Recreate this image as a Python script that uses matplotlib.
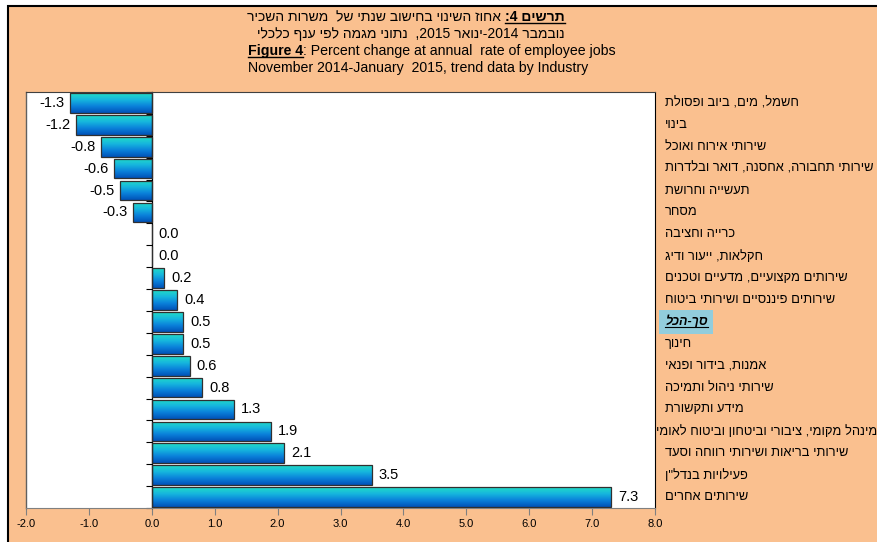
import re
import numpy as np
import matplotlib
matplotlib.use("Agg")
import matplotlib.pyplot as plt
import matplotlib.transforms as mtransforms
from matplotlib.colors import LinearSegmentedColormap
from matplotlib.patches import Rectangle
from matplotlib.lines import Line2D

plt.rcParams['font.family'] = ['Liberation Sans', 'DejaVu Sans']

# data, top row first
industries = [
    "חשמל, מים, ביוב ופסולת",
    "בינוי",
    "שירותי אירוח ואוכל",
    "שירותי תחבורה, אחסנה, דואר ובלדרות",
    "תעשייה וחרושת",
    "מסחר",
    "כרייה וחציבה",
    "חקלאות, ייעור ודיג",
    "שירותים מקצועיים, מדעיים וטכנים",
    "שירותים פיננסיים ושירותי ביטוח",
    "סך-הכל",
    "חינוך",
    "אמנות, בידור ופנאי",
    "שירותי ניהול ותמיכה",
    "מידע ותקשורת",
    "מינהל מקומי, ציבורי וביטחון וביטוח לאומי",
    "שירותי בריאות ושירותי רווחה וסעד",
    "פעילויות בנדל\"ן",
    "שירותים אחרים",
]
values = [-1.3, -1.2, -0.8, -0.6, -0.5, -0.3, 0.0, 0.0, 0.2, 0.4,
          0.5, 0.5, 0.6, 0.8, 1.3, 1.9, 2.1, 3.5, 7.3]
total_label = "סך-הכל"
x_ticks = [-2.0, -1.0, 0.0, 1.0, 2.0, 3.0, 4.0, 5.0, 6.0, 7.0, 8.0]

title_he_bold = "תרשים 4:"
title_he_1 = "אחוז השינוי בחישוב שנתי של  משרות השכיר"
title_he_2 = "נובמבר 2014-ינואר 2015,  נתוני מגמה לפי ענף כלכלי"
title_en_bold = "Figure 4"
title_en_1 = ": Percent change at annual  rate of employee jobs"
title_en_2 = "November 2014-January  2015, trend data by Industry"

PEACH = '#FAC08F'


def vis(s):
    # no bidi in matplotlib: lay the RTL line out by hand, numbers stay LTR
    r = s[::-1]
    return re.sub(r'\d+', lambda m: m.group(0)[::-1], r)


W, H = 877, 542
fig = plt.figure(figsize=(W / 100, H / 100), dpi=100, facecolor='white')


def fx(px):
    return px / W


def fy(py):
    return 1 - py / H


fig.add_artist(Rectangle((fx(8), -0.05), 1.1, fy(6) + 0.05, transform=fig.transFigure,
                         facecolor=PEACH, edgecolor='black', lw=1.5, zorder=0))

ax = fig.add_axes([fx(26), fy(508), fx(655) - fx(26), fy(92) - fy(508)])
ax.set_facecolor('white')

y = np.arange(len(values))
bars = ax.barh(y, values, height=0.9, color='none', edgecolor='#303030', lw=0.9, zorder=3)

cmap = LinearSegmentedColormap.from_list('bar', ['#22DCC6', '#16B6DE', '#0A80DA', '#0052B8'])
grad = np.linspace(0, 1, 64).reshape(-1, 1)
for b in bars:
    x0, y0, w, h = b.get_x(), b.get_y(), b.get_width(), b.get_height()
    if w == 0:
        continue
    im = ax.imshow(grad, cmap=cmap, aspect='auto', interpolation='bilinear',
                   extent=(min(x0, x0 + w), max(x0, x0 + w), y0 + h, y0), zorder=2)
    im.set_clip_path(b)

ax.set_xlim(x_ticks[0], x_ticks[-1])
ax.set_ylim(len(values) - 0.5, -0.5)

# value labels
for i, v in enumerate(values):
    if v < 0:
        ax.annotate(f'{v:.1f}', (v, i), xytext=(-4, 0), textcoords='offset points',
                    ha='right', va='center', fontsize=10.5)
    else:
        ax.annotate(f'{v:.1f}', (v, i), xytext=(5, 0), textcoords='offset points',
                    ha='left', va='center', fontsize=10.5)

# axes styling
ax.spines['left'].set_position(('data', 0))
ax.spines['left'].set_color('black')
ax.spines['left'].set_linewidth(0.9)
ax.spines['right'].set_color('black')
ax.spines['top'].set_color('#404040')
ax.spines['bottom'].set_color('#808080')
ax.plot([0, 0], [0, 1], transform=ax.transAxes, color='#606060', lw=1, clip_on=False)

ax.set_yticks(np.arange(-0.5, len(values), 1.0))
ax.set_yticklabels([])
ax.tick_params(axis='y', direction='out', length=4, width=0.8, color='black')
ax.set_xticks(x_ticks)
ax.set_xticklabels([f'{t:.1f}' for t in x_ticks], fontsize=8)
ax.tick_params(axis='x', direction='out', length=5, width=0.8, color='#808080', pad=3)

# category labels on the right
trans = mtransforms.blended_transform_factory(ax.transAxes, ax.transData)
cat_texts = []
total_texts = []
for i, name in enumerate(industries):
    if name == total_label:
        t = ax.text(1.016, i, vis(name), transform=trans, ha='left', va='center',
                    fontsize=9, fontweight='bold', fontstyle='italic',
                    bbox=dict(boxstyle='square,pad=0.45', facecolor='#92CDDC', edgecolor='none'))
        total_texts.append(t)
    else:
        t = ax.text(1.016, i, vis(name), transform=trans, ha='left', va='center', fontsize=9.3)
    cat_texts.append(t)

# title block
x_left = fx(248)
x_right = fx(565)
t1 = fig.text(x_right, fy(21), vis(title_he_bold), fontsize=10, fontweight='bold',
              va='baseline', ha='right')
fig.text(x_right, fy(38), vis(title_he_2), fontsize=10, va='baseline', ha='right')
t3 = fig.text(x_left, fy(55), title_en_bold, fontsize=10.2, fontweight='bold', va='baseline')
fig.text(x_left, fy(72), title_en_2, fontsize=10.2, va='baseline')

fig.canvas.draw()
r = fig.canvas.get_renderer()

e = t1.get_window_extent(r)
fig.text((e.x0 - 4) / W, fy(21), vis(title_he_1), fontsize=10, va='baseline', ha='right')
fig.add_artist(Line2D([e.x0 / W, e.x1 / W], [fy(23)] * 2, color='black', lw=1,
                      transform=fig.transFigure))

e = t3.get_window_extent(r)
fig.text(e.x1 / W, fy(55), title_en_1, fontsize=10.2, va='baseline')
fig.add_artist(Line2D([e.x0 / W, e.x1 / W], [fy(57)] * 2, color='black', lw=1,
                      transform=fig.transFigure))

# labels too long for the margin start at the plot border instead
ax_w = ax.get_window_extent(r).width
for t in cat_texts:
    e = t.get_window_extent(r)
    if e.x1 > W:
        t.set_x(t.get_position()[0] - (e.x0 - fx(656) * W) / ax_w)

for t in total_texts:
    e = t.get_window_extent(r)
    fig.add_artist(Line2D([e.x0 / W, e.x1 / W], [(e.y0 + 1) / H] * 2, color='black', lw=0.8,
                          transform=fig.transFigure))

fig.savefig('out.png', dpi=100, facecolor=fig.get_facecolor())
